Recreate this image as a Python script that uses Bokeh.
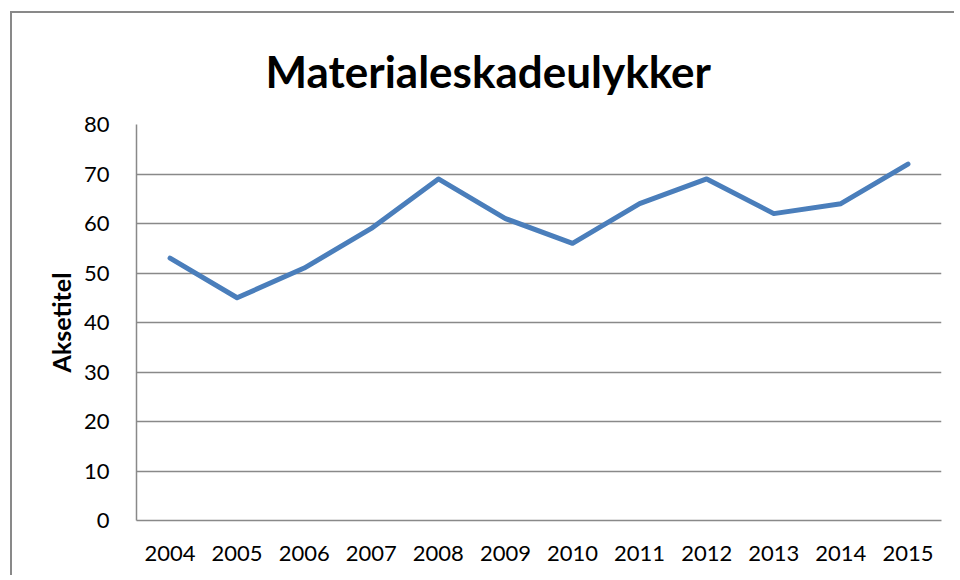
from bokeh.plotting import figure
from bokeh.models import FactorRange, Range1d, FixedTicker, Title
from bokeh.embed import file_html
from bokeh.resources import INLINE

years = ["2004", "2005", "2006", "2007", "2008", "2009", "2010", "2011", "2012", "2013", "2014", "2015"]
accidents = [53, 45, 51, 59, 69, 61, 56, 64, 69, 62, 64, 72]
y_ticks = [0, 10, 20, 30, 40, 50, 60, 70, 80]
chart_title = "Materialeskadeulykker"

FONT = "Lato"

p = figure(
    width=944, height=564,
    x_range=FactorRange(*years, range_padding=0),
    y_range=Range1d(0, 80),
    output_backend="svg", toolbar_location=None,
    min_border_left=124, min_border_right=15, min_border_top=111, min_border_bottom=57,
)
p.margin = (13, 0, 0, 12)
p.styles = {"box-shadow": "-2px -2px 0px 0px #898989"}
p.outline_line_color = None
p.background_fill_color = "white"
p.border_fill_color = "white"

title = Title(text=chart_title, align="left", offset=129,
              text_font=FONT, text_font_size="44px", text_font_style="bold",
              text_color="black", standoff=56)
p.add_layout(title, "above")

p.line(years, accidents, line_color="#4A7EBB", line_width=5,
       line_cap="round", line_join="round")

p.yaxis.ticker = FixedTicker(ticks=y_ticks)
p.yaxis.axis_label = "Aksetitel"
p.yaxis.axis_label_text_font = FONT
p.yaxis.axis_label_text_font_size = "25px"
p.yaxis.axis_label_text_font_style = "bold"
p.yaxis.axis_label_text_color = "black"
p.yaxis.axis_label_standoff = 5

for ax in (p.xaxis, p.yaxis):
    ax.major_label_text_font = FONT
    ax.major_label_text_font_size = "22px"
    ax.major_label_text_color = "black"
    ax.major_tick_out = 0
    ax.major_tick_in = 0
    ax.minor_tick_out = 0
    ax.minor_tick_in = 0
    ax.axis_line_color = "#898989"
    ax.axis_line_width = 1.5
p.yaxis.major_label_standoff = 27
p.xaxis.major_label_standoff = 25

p.xgrid.grid_line_color = None
p.ygrid.ticker = FixedTicker(ticks=y_ticks)
p.ygrid.grid_line_color = "#898989"
p.ygrid.grid_line_width = 1.5

open("out.html", "w").write(file_html(p, INLINE))
